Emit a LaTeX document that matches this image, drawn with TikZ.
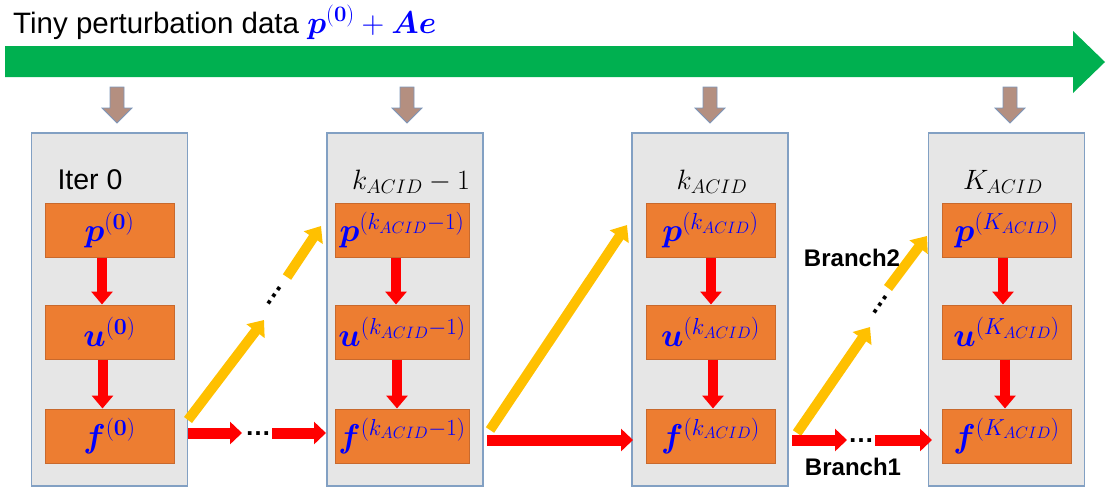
\RequirePackage{fix-cm}
\documentclass[tikz,border=0pt]{standalone}
\usepackage{amsmath}
\usepackage{bm}
\usepackage[no-math]{fontspec}
\newfontfamily\arial{Liberation Sans}
\usetikzlibrary{arrows.meta,calc}
\definecolor{panelfill}{RGB}{230,230,230}
\definecolor{paneldraw}{RGB}{130,160,195}
\definecolor{boxfill}{RGB}{237,125,49}
\definecolor{boxdraw}{RGB}{200,105,45}
\definecolor{ared}{RGB}{255,0,0}
\definecolor{ayel}{RGB}{255,192,0}
\definecolor{agreen}{RGB}{0,176,80}
\definecolor{abrown}{RGB}{180,143,128}
\definecolor{abrowndraw}{RGB}{125,150,185}
\definecolor{mblue}{RGB}{0,0,255}
\tikzset{
  panel/.style={draw=paneldraw, line width=1.2pt, fill=panelfill, minimum width=156pt, minimum height=353pt, inner sep=0pt},
  obox/.style={draw=boxdraw, line width=1pt, fill=boxfill, minimum width=129pt, minimum height=54pt, inner sep=0pt, text=mblue, font=\fontsize{33}{36}\selectfont},
  redarr/.style={draw=ared, line width=10pt, -{Triangle[width=21pt,length=13pt]}},
  hredarr/.style={draw=ared, line width=11pt, -{Triangle[width=22pt,length=12pt]}},
  yelarr/.style={draw=ayel, line width=10pt, -{Triangle[width=22pt,length=14pt]}},
  plabel/.style={inner sep=0pt, font=\fontsize{28}{32}\selectfont},
  blabel/.style={inner sep=0pt, font=\arial\fontsize{24}{28}\selectfont\bfseries},
  dotsnode/.style={inner sep=0pt, font=\arial\fontsize{26}{30}\selectfont\bfseries},
  brownarr/.pic={\filldraw[fill=abrown, draw=abrowndraw, line width=0.8pt]
     (-7,0) -- (7,0) -- (7,21) -- (15,21) -- (0,36) -- (-15,21) -- (-7,21) -- cycle;}
}
\begin{document}
\begin{tikzpicture}[x=1pt,y=-1pt]
\useasboundingbox (0,0) rectangle (1107,491);

% title and big green arrow
\node[anchor=base west, inner sep=0pt, font=\arial\fontsize{29.5}{34}\selectfont] (title) at (13,33)
  {Tiny perturbation data {\color{mblue}\fontsize{31.5}{34}\selectfont$\bm{p}^{(\bm{0})}+\bm{A}\bm{e}$}};
\fill[agreen] (5,46) -- (1073,46) -- (1073,31) -- (1105,62) -- (1073,93) -- (1073,77) -- (5,77) -- cycle;

% brown arrows
\pic at (117,87) {brownarr};
\pic at (407,87) {brownarr};
\pic at (710,87) {brownarr};
\pic at (1010,87) {brownarr};

% panels
\node[panel] (P1) at (109.5,309.5) {};
\node[panel] (P2) at (405,309.5) {};
\node[panel] (P3) at (710,309.5) {};
\node[panel] (P4) at (1006.5,309.5) {};

% panel labels
\node[inner sep=0pt, font=\arial\fontsize{28.5}{32}\selectfont] (L1) at (90,180) {Iter 0};
\node[plabel] (L2) at (411,182) {$k_{ACID}-1$};
\node[plabel] (L3) at (712,182) {$k_{ACID}$};
\node[plabel] (L4) at (1003,182) {$K_{ACID}$};

% orange boxes
\node[obox] (p1) at (109.5,230.5) {$\bm{p}^{(\bm{0})}$};
\node[obox] (u1) at (109.5,332) {$\bm{u}^{(\bm{0})}$};
\node[obox] (f1) at (109.5,436) {$\bm{f}^{(\bm{0})}$};

\node[obox, minimum width=134pt] (p2) at (402,230.5) {$\bm{p}^{(k_{ACID}-1)}$};
\node[obox, minimum width=134pt] (u2) at (402,332) {$\bm{u}^{(k_{ACID}-1)}$};
\node[obox, minimum width=134pt] (f2) at (402,436) {$\bm{f}^{(k_{ACID}-1)}$};

\node[obox] (p3) at (710.5,230.5) {$\bm{p}^{(k_{ACID})}$};
\node[obox] (u3) at (710.5,332) {$\bm{u}^{(k_{ACID})}$};
\node[obox] (f3) at (710.5,436) {$\bm{f}^{(k_{ACID})}$};

\node[obox] (p4) at (1006.5,230.5) {$\bm{p}^{(K_{ACID})}$};
\node[obox] (u4) at (1006.5,332) {$\bm{u}^{(K_{ACID})}$};
\node[obox] (f4) at (1006.5,436) {$\bm{f}^{(K_{ACID})}$};

% vertical red arrows
\draw[redarr] ([xshift=-7.5pt]p1.south) -- ([xshift=-7.5pt]u1.north);
\draw[redarr] ([xshift=-7pt]u1.south) -- ([xshift=-7pt]f1.north);
\draw[redarr] ([xshift=-6pt]p2.south) -- ([xshift=-6pt]u2.north);
\draw[redarr] ([xshift=-5pt]u2.south) -- ([xshift=-5pt]f2.north);
\draw[redarr] ([xshift=0.5pt]p3.south) -- ([xshift=0.5pt]u3.north);
\draw[redarr] ([xshift=2.5pt]u3.south) -- ([xshift=2.5pt]f3.north);
\draw[redarr] ([xshift=-3.5pt]p4.south) -- ([xshift=-3.5pt]u4.north);
\draw[redarr] ([xshift=-1.5pt]u4.south) -- ([xshift=-1.5pt]f4.north);

% connector end points
\coordinate (y1s) at (188,420);
\coordinate (y1m) at (264,320);
\coordinate (y1n) at (287,277);
\coordinate (y1e) at (321,226);
\coordinate (y2s) at (490,430);
\coordinate (y2e) at (627,225);
\coordinate (y3s) at (797,433);
\coordinate (y3m) at (870,327);
\coordinate (y3n) at (888,288);
\coordinate (y3e) at (927,236);

\coordinate (r1s) at (188,433);
\coordinate (r1m) at (242,433);
\coordinate (r1n) at (272,433);
\coordinate (r1e) at (326,433);
\coordinate (r2s) at (487,440);
\coordinate (r2e) at (633,440);
\coordinate (r3s) at (792,440);
\coordinate (r3m) at (847,440);
\coordinate (r3n) at (875,440);
\coordinate (r3e) at (932,440);

% yellow arrows
\draw[yelarr] (y1s) -- (y1m);
\draw[yelarr] (y1n) -- (y1e);
\draw[yelarr] (y2s) -- (y2e);
\draw[yelarr] (y3s) -- (y3m);
\draw[yelarr] (y3n) -- (y3e);

% red horizontal arrows
\draw[hredarr] (r1s) -- (r1m);
\draw[hredarr] (r1n) -- (r1e);
\draw[hredarr] (r2s) -- (r2e);
\draw[hredarr] (r3s) -- (r3m);
\draw[hredarr] (r3n) -- (r3e);

% dots
\node[dotsnode, rotate=55] (d1) at (274,296) {…};
\node[dotsnode] (d2) at (258,434) {…};
\node[dotsnode, rotate=55] (d3) at (880,305) {…};
\node[dotsnode] (d4) at (861,441) {…};

% branch labels
\node[blabel] (b2) at (852,258) {Branch2};
\node[blabel] (b1) at (853,467) {Branch1};
\end{tikzpicture}
\end{document}
